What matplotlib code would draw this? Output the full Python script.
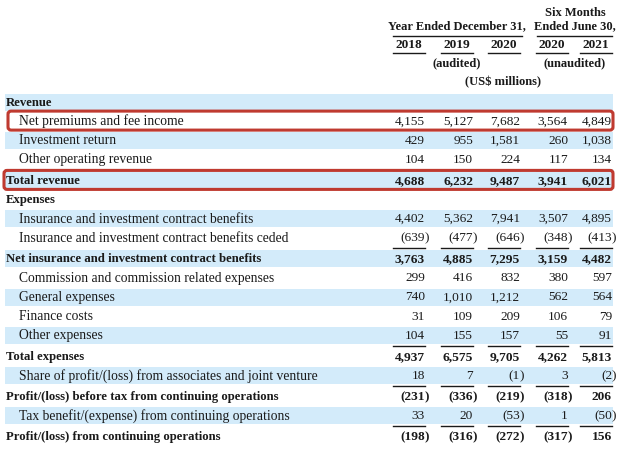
import matplotlib
matplotlib.use("Agg")
import matplotlib.pyplot as plt
from matplotlib.patches import Rectangle, FancyBboxPatch

# Income statement data (US$ millions)
years = ["2018", "2019", "2020", "2020", "2021"]

net_premiums = [4155, 5127, 7682, 3564, 4849]
investment_return = [429, 955, 1581, 260, 1038]
other_operating = [104, 150, 224, 117, 134]
total_revenue = [4688, 6232, 9487, 3941, 6021]
contract_benefits = [4402, 5362, 7941, 3507, 4895]
benefits_ceded = [-639, -477, -646, -348, -413]
net_benefits = [3763, 4885, 7295, 3159, 4482]
commission = [299, 416, 832, 380, 597]
general_exp = [740, 1010, 1212, 562, 564]
finance_costs = [31, 109, 209, 106, 79]
other_exp = [104, 155, 157, 55, 91]
total_exp = [4937, 6575, 9705, 4262, 5813]
share_assoc = [18, 7, -1, 3, -2]
profit_before_tax = [-231, -336, -219, -318, 206]
tax = [33, 20, -53, 1, -50]
profit_cont = [-198, -316, -272, -317, 156]

rows = [
    ("Revenue", None),
    ("Net premiums and fee income", net_premiums),
    ("Investment return", investment_return),
    ("Other operating revenue", other_operating),
    ("Total revenue", total_revenue),
    ("Expenses", None),
    ("Insurance and investment contract benefits", contract_benefits),
    ("Insurance and investment contract benefits ceded", benefits_ceded),
    ("Net insurance and investment contract benefits", net_benefits),
    ("Commission and commission related expenses", commission),
    ("General expenses", general_exp),
    ("Finance costs", finance_costs),
    ("Other expenses", other_exp),
    ("Total expenses", total_exp),
    ("Share of profit/(loss) from associates and joint venture", share_assoc),
    ("Profit/(loss) before tax from continuing operations", profit_before_tax),
    ("Tax benefit/(expense) from continuing operations", tax),
    ("Profit/(loss) from continuing operations", profit_cont),
]
bold_rows = {"Revenue", "Total revenue", "Expenses",
             "Net insurance and investment contract benefits", "Total expenses",
             "Profit/(loss) before tax from continuing operations",
             "Profit/(loss) from continuing operations"}
ruled_rows = {"Total revenue", "Net insurance and investment contract benefits",
              "Total expenses", "Profit/(loss) before tax from continuing operations",
              "Profit/(loss) from continuing operations"}
boxed_rows = {"Net premiums and fee income", "Total revenue"}

FONT = "Liberation Serif"
FS_NUM = 9.6
FS_LAB = 9.8
FS_BOLD = 9.2
FS_HDR = 9.0
TXT = "#1a1a1a"
BLUE = "#d3ebfa"
RED = "#bf3a30"

fig = plt.figure(figsize=(6.27, 4.57), dpi=100)
ax = fig.add_axes([0, 0, 1, 1])
ax.set_xlim(0, 627)
ax.set_ylim(457, 0)
ax.axis("off")

col_right = [425, 473, 520, 568, 612]
col_w = 32

# header
hdr = dict(fontfamily=FONT, fontsize=FS_HDR, fontweight="bold", color=TXT, va="center", ha="center")
ax.text(575, 13, "Six Months", **hdr)
ax.text(457, 26, "Year Ended December 31,", **hdr)
ax.text(575, 26, "Ended June 30,", **hdr)
ax.plot([393, 522], [36, 36], color=TXT, lw=1)
ax.plot([537, 612], [36, 36], color=TXT, lw=1)
for x, yr in zip(col_right, years):
    ax.text(x - col_w / 2, 45, yr, **dict(hdr, fontsize=FS_NUM))
    ax.plot([x - col_w, x], [53, 53], color=TXT, lw=1)
ax.text(457, 63, "(audited)", **hdr)
ax.text(575, 63, "(unaudited)", **hdr)
ax.text(503, 82, "(US$ millions)", **hdr)

y = 102.5
pitch = 19.1
for i, (label, vals) in enumerate(rows):
    if label in ruled_rows:
        y += 2
        for x in col_right:
            ax.plot([x - col_w, x], [y - 11, y - 11], color=TXT, lw=1, zorder=3)
    if i % 2 == 0:
        ax.add_patch(Rectangle((5, y - 9), 608, 17, color=BLUE, lw=0, zorder=0))
    bold = label in bold_rows
    indent = 6 if (bold or vals is None) else 19
    kw = dict(fontfamily=FONT, color=TXT, va="center",
              fontweight="bold" if bold else "normal", zorder=4)
    ax.text(indent, y, label, ha="left", fontsize=FS_BOLD if bold else FS_LAB, **kw)
    if vals is not None:
        for x, v in zip(col_right, vals):
            if v < 0:
                ax.text(x, y, "({:,}".format(-v), ha="right", fontsize=FS_NUM, **kw)
                ax.text(x, y, ")", ha="left", fontsize=FS_NUM, **kw)
            else:
                ax.text(x, y, "{:,}".format(v), ha="right", fontsize=FS_NUM, **kw)
    if label in boxed_rows:
        x0 = 7 if i == 1 else 3
        box = FancyBboxPatch((x0 + 2, y - 9.5), 612 - x0 - 2, 17,
                             boxstyle="round,pad=1,rounding_size=3",
                             fill=False, ec=RED, lw=2.2, zorder=5)
        ax.add_patch(box)
    y += pitch

fig.savefig("out.png", dpi=100, facecolor="white")
